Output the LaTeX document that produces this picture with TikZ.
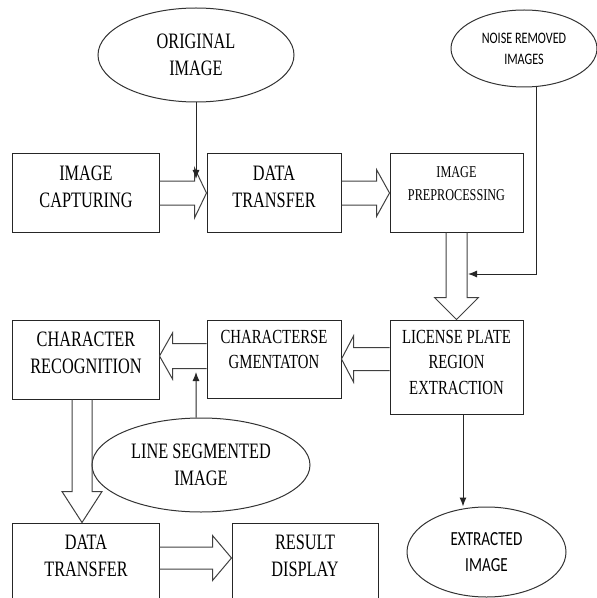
\documentclass[tikz,border=0pt]{standalone}
\usepackage{fontspec}
\setmainfont{Liberation Serif}[FakeStretch=0.74]
\newfontfamily\calibri{Carlito}[FakeStretch=0.76]
\usetikzlibrary{shapes.geometric,arrows.meta,calc}

\begin{document}
\begin{tikzpicture}[x=1bp,y=-1bp,
 box/.style={rectangle,draw=black!85,line width=1bp,align=center,inner sep=0,
   minimum width=146bp,minimum height=78bp,font=\fontsize{22bp}{27bp}\selectfont},
 oval/.style={ellipse,draw=black!80,line width=1bp,align=center,inner sep=0,
   font=\fontsize{22bp}{27bp}\selectfont},
 feed/.style={draw=black!85,line width=1bp,-{Latex[length=9bp,width=7bp]}},
 fat/.style n args={3}{draw=black!75,line width=1bp,to path={
   let \p1=($(\tikztotarget)!#3!(\tikztostart)$) in
   ($(\tikztostart)!#1!90:(\tikztotarget)$) -- ($(\p1)!#1!90:(\tikztotarget)$)
   -- ($(\p1)!#2!90:(\tikztotarget)$) -- (\tikztotarget)
   -- ($(\p1)!#2!-90:(\tikztotarget)$) -- ($(\p1)!#1!-90:(\tikztotarget)$)
   -- ($(\tikztostart)!#1!-90:(\tikztotarget)$)}}
]
\useasboundingbox (0,0) rectangle (597,598);
\clip (0,0) rectangle (597,598);

% top row
\node[oval,minimum width=196bp,minimum height=94bp] (orig) at (196,55) {ORIGINAL\\IMAGE};
\node[oval,minimum width=146bp,minimum height=77bp,font=\calibri\fontsize{16bp}{21bp}\selectfont] (noise) at (524,48.5) {NOISE REMOVED\\IMAGES};
\node[box,text depth=13bp] (cap) at (86,193) {IMAGE\\CAPTURING};
\node[box,minimum width=134bp,text depth=13bp] (dt1) at (274,193) {DATA\\TRANSFER};
\node[box,minimum width=133bp,text depth=18bp,font=\fontsize{16.5bp}{23bp}\selectfont] (ip) at (456.5,193) {IMAGE\\PREPROCESSING};
\coordinate (oi) at (196,179);
\coordinate (nr) at (468,274);

% middle row
\node[box,minimum width=133bp,minimum height=94bp,text depth=10bp,font=\fontsize{20bp}{25.5bp}\selectfont] (lpre) at (456.5,367) {LICENSE PLATE\\REGION\\EXTRACTION};
\node[box,minimum width=134bp,text depth=19bp,font=\fontsize{20bp}{25.5bp}\selectfont] (cs) at (274,359) {CHARACTERSE\\GMENTATON};
\node[box,minimum height=79bp,text depth=14bp] (cr) at (86,359.5) {CHARACTER\\RECOGNITION};
\node[oval,minimum width=218bp,minimum height=94bp] (lse) at (201,465) {LINE SEGMENTED\\IMAGE};
\coordinate (ls) at (196,372);

% bottom row
\node[box,text depth=12bp] (dt2) at (86,562) {DATA\\TRANSFER};
\node[box,text depth=12bp] (rd) at (305,562) {RESULT\\DISPLAY};
\node[oval,minimum width=159bp,minimum height=90bp,font=\calibri\fontsize{20bp}{26bp}\selectfont] (ext) at (486.5,552) {EXTRACTED\\IMAGE};

\draw[fat={12bp}{25bp}{12bp}] (cap.east) to (dt1.west);
\draw[fat={12bp}{23.5bp}{13bp}] (dt1.east) to (ip.west);
\draw[fat={10.5bp}{22bp}{22bp}] (ip.south) to (lpre.north);
\draw[fat={11.5bp}{23bp}{12bp}] (lpre.west |- cs.east) to (cs.east);
\draw[fat={12.5bp}{23bp}{13bp}] ([yshift=3bp]cs.west) to ([yshift=3bp]cs.west -| cr.east);
\draw[fat={10bp}{20bp}{31bp}] ([xshift=-4bp]cr.south) to ([xshift=-4bp]dt2.north);
\draw[fat={11bp}{22.5bp}{19bp}] ([yshift=4bp]dt2.east) to ([yshift=4bp]rd.west);

\draw[feed] (orig.south) -- (oi);
\draw[feed] ([xshift=12bp]noise.south) |- (nr);
\draw[feed] ([xshift=6.5bp]lpre.south) -- ([xshift=6.5bp]lpre.south |- ext.north);
\draw[feed] ([xshift=-5bp]lse.north) -- (ls);
\end{tikzpicture}
\end{document}
